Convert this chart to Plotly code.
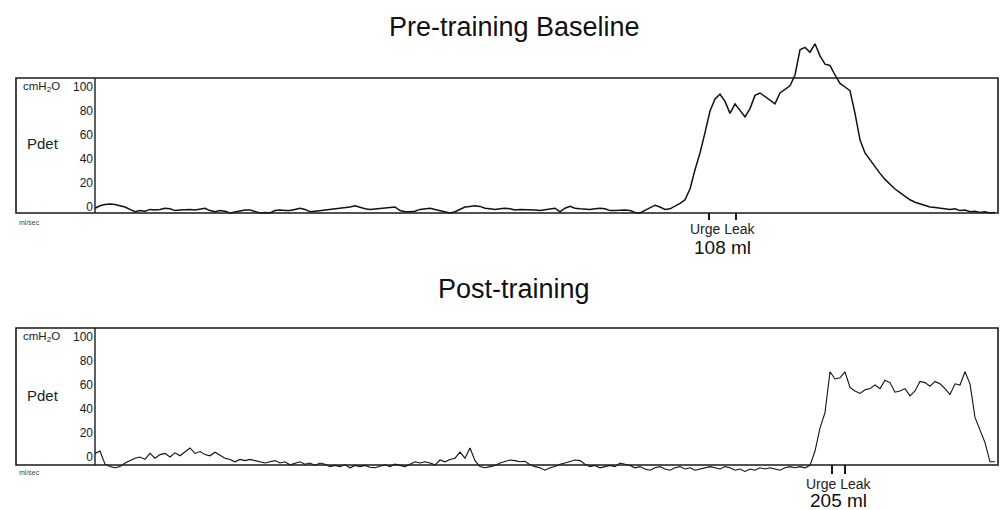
import plotly.graph_objects as go

# ---------------- data ----------------
# samples every 5 px-equivalent time units (index 0..180)
pre_pdet = [
    -1, 1, 2, 2.5, 2, 1, 0, -2, -4, -3,
    -3.5, -2, -2.5, -2, -1, -1.5, -3, -2.5, -2, -2,
    -2.5, -2, -1, -3, -4, -3, -3.5, -5, -4, -3,
    -2.5, -2.5, -3.5, -5, -4.5, -5, -3, -2.5, -3, -3,
    -2, -1, -2, -4, -3.5, -3, -2.5, -2, -1.5, -1.5,
    -1, 0, 1, -0.5, -1.5, -2, -1.5, -1, -1, -0.5,
    0, -3, -4, -4, -3.5, -2, -1.5, -1, -2, -3,
    -4.5, -5, -4, -2, 0, 0.5, 1, 0.5, -1, -1.5,
    -2, -1.5, -1, -1.5, -2.5, -2, -2, -2, -2.5, -3,
    -2.5, -1.5, -1, -4, -1, 0.5, -1, -1.5, -2, -2,
    -1.5, -1, -1.5, -3, -3, -2.5, -2.5, -3, -4.5, -5,
    -3, -1, 1.5, 0, -2, -1.5, 0.5, 3, 6, 15,
    31, 45, 62, 80, 90, 94, 88, 78, 86, 80,
    75, 82, 93, 95, 92, 89, 86, 95, 98, 101,
    110, 131, 133, 129, 136, 126, 119, 118, 110, 103,
    100, 97, 78, 56, 45, 39, 33, 28, 23, 19,
    15, 12, 9, 6, 4, 2.5, 1, 0, -0.5, -1,
    -1, -2, -1.5, -3, -2.5, -4, -3.5, -4.5, -4, -5,
    -4.5,
]
post_pdet = [
    3, 5, -6, -8, -9, -8, -5, -3, -1, 0,
    -2, 3, -1, 2, 3, 0, 3.5, 1, 4, 7.5,
    3, 4.5, 2, 1, 4, 1.5, -1, -2, -4, -2,
    -3, -2, -3, -4.5, -5, -4, -3, -5, -4, -6.5,
    -5, -4, -6, -5, -7, -5, -6, -8, -7, -8,
    -6.5, -9, -7, -8, -7, -8.5, -9, -7.5, -6.5, -8,
    -6, -7, -8, -6, -4, -5, -4, -5, -6.5, -2.5,
    -4, -2, -1, 4, -1, 7.5, -3, -8, -9, -8,
    -7, -5, -4, -2.5, -3, -4, -3.5, -6.5, -8, -9,
    -11, -9, -8, -6, -5, -4, -2.5, -3, -6, -8,
    -7, -9, -8, -7, -8, -5, -6, -7, -9, -8,
    -10, -11, -9, -8, -10, -11, -9, -8, -10, -9,
    -11, -10, -9, -8, -9, -10, -8, -9, -11, -10,
    -12, -10, -11, -9, -10, -9, -10, -11, -9, -8,
    -9, -8, -9, -7, 5, 24, 37, 71, 65, 66,
    71, 58, 55, 53, 56, 57, 60, 57, 64, 62,
    54, 55, 57, 51, 55, 63, 62, 59, 63, 61,
    57, 52, 61, 60, 71, 61, 33, 22, 12, -4,
    -4,
]
time_idx = list(range(len(pre_pdet)))

tick_vals = [0, 20, 40, 60, 80, 100]
tick_text = ["0", "20", "40", "60", "80", "100"]

titles = ["Pre-training Baseline", "Post-training"]
urge_times = [122.8, 147.4]
leak_times = [128.2, 150.0]
volumes = ["108 ml", "205 ml"]

# ---------------- layout helpers ----------------
# the page body has an 8 px margin, so the figure is placed at (8, 8)
OFF = 8
W, H = 999, 502
FONT = "Liberation Sans, Arial, sans-serif"


def pxx(x):
    return (x - OFF) / W


def pxy(y):
    return 1 - (y - OFF) / H


fig = go.Figure()
fig.add_trace(go.Scatter(x=time_idx, y=pre_pdet, mode="lines",
                         line=dict(color="#111111", width=1.5),
                         xaxis="x", yaxis="y", showlegend=False,
                         hoverinfo="skip"))
fig.add_trace(go.Scatter(x=list(range(len(post_pdet))), y=post_pdet, mode="lines",
                         line=dict(color="#111111", width=1.1),
                         xaxis="x2", yaxis="y2", showlegend=False,
                         hoverinfo="skip"))

xdom = [pxx(95), pxx(998)]
xrange = [0, 180.6]
ax_common = dict(showgrid=False, zeroline=False, showticklabels=False,
                 showline=False, ticks="", fixedrange=True)
yax_common = dict(showgrid=False, zeroline=False, showline=False, ticks="",
                  tickvals=tick_vals, ticktext=tick_text,
                  tickfont=dict(family=FONT, size=12, color="#1a1a1a"),
                  ticklabelstandoff=1,
                  automargin=False, fixedrange=True)

fig.update_layout(
    width=W, height=H,
    margin=dict(l=0, r=0, t=0, b=0),
    paper_bgcolor="white", plot_bgcolor="rgba(0,0,0,0)",
    xaxis=dict(domain=xdom, range=xrange, anchor="y", **ax_common),
    yaxis=dict(domain=[pxy(216.6), pxy(39)], range=[-8, 140], anchor="x", **yax_common),
    xaxis2=dict(domain=xdom, range=xrange, anchor="y2", **ax_common),
    yaxis2=dict(domain=[pxy(475), pxy(325)], range=[-15, 110], anchor="x2", **yax_common),
)

shapes = []
annotations = []
panels = [
    dict(yref="y", box=(-5, 107.5), title_y=27, label_y=87, pdet_y=143,
         mls_y=222, mark=(213, 220), ul_y=229, vol_y=247),
    dict(yref="y2", box=(-6.7, 107.5), title_y=289, label_y=337, pdet_y=395,
         mls_y=472, mark=(465, 474), ul_y=484, vol_y=500),
]
for k, p in enumerate(panels):
    b0, b1 = p["box"]
    shapes.append(dict(type="rect", xref="paper", yref=p["yref"],
                       x0=pxx(16), x1=pxx(998), y0=b0, y1=b1,
                       line=dict(color="#1a1a1a", width=1.6)))
    shapes.append(dict(type="line", xref="paper", yref=p["yref"],
                       x0=pxx(95), x1=pxx(95), y0=b0, y1=b1,
                       line=dict(color="#1a1a1a", width=1.4)))
    xr = "x" if k == 0 else "x2"
    for t in (urge_times[k], leak_times[k]):
        shapes.append(dict(type="line", xref=xr, yref="paper",
                           x0=t, x1=t, y0=pxy(p["mark"][0]), y1=pxy(p["mark"][1]),
                           line=dict(color="#1a1a1a", width=2)))
    mid = (urge_times[k] + leak_times[k]) / 2
    annotations += [
        dict(text=titles[k], x=pxx(514), y=pxy(p["title_y"]), xref="paper", yref="paper",
             showarrow=False, xanchor="center", yanchor="middle",
             font=dict(family=FONT, size=27, color="#111111")),
        dict(text="cmH<sub>2</sub>O", x=pxx(21), y=pxy(p["label_y"]), xref="paper", yref="paper",
             showarrow=False, xanchor="left", yanchor="middle",
             font=dict(family=FONT, size=11.5, color="#222222")),
        dict(text="Pdet", x=pxx(43), y=pxy(p["pdet_y"]), xref="paper", yref="paper",
             showarrow=False, xanchor="center", yanchor="middle",
             font=dict(family=FONT, size=15, color="#222222")),
        dict(text="ml/sec", x=pxx(17), y=pxy(p["mls_y"]), xref="paper", yref="paper",
             showarrow=False, xanchor="left", yanchor="middle",
             font=dict(family=FONT, size=7, color="#444444")),
        dict(text="Urge Leak", x=mid, y=pxy(p["ul_y"]), xref=xr, yref="paper",
             showarrow=False, xanchor="center", yanchor="middle",
             font=dict(family=FONT, size=14, color="#222222")),
        dict(text=volumes[k], x=mid, y=pxy(p["vol_y"]), xref=xr, yref="paper",
             showarrow=False, xanchor="center", yanchor="middle",
             font=dict(family=FONT, size=19, color="#111111")),
    ]

fig.update_layout(shapes=shapes, annotations=annotations)
fig.write_html("out.html")
